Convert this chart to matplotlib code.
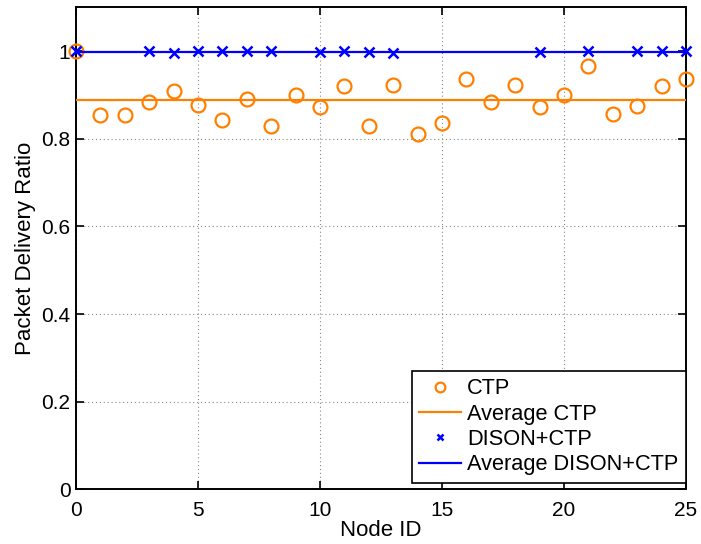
import numpy as np
import matplotlib
matplotlib.use("Agg")
import matplotlib.pyplot as plt

plt.rcParams['font.family'] = ['Liberation Sans', 'DejaVu Sans']

# data
node_ids = list(range(26))
ctp = [1.000, 0.854, 0.854, 0.884, 0.909, 0.878, 0.843, 0.890, 0.829, 0.901,
       0.873, 0.920, 0.829, 0.923, 0.810, 0.837, 0.936, 0.885, 0.922, 0.873,
       0.901, 0.967, 0.856, 0.875, 0.920, 0.936]
nan = np.nan
dison = [1.000, nan, nan, 1.000, 0.995, 1.000, 1.000, 1.000, 1.000, nan,
         0.997, 1.000, 0.997, 0.995, nan, nan, nan, nan, nan, 0.998,
         nan, 1.000, nan, 1.000, 1.000, 1.000]
avg_ctp = 0.888
avg_dison = 0.999
x_ticks = [0, 5, 10, 15, 20, 25]
y_ticks = [0, 0.2, 0.4, 0.6, 0.8, 1]
y_ticklabels = ['0', '0.2', '0.4', '0.6', '0.8', '1']

orange = '#ff8000'
blue = '#0000ff'

fig = plt.figure(figsize=(7.01, 5.44), dpi=100)
ax = fig.add_axes([0.1084, 0.1002, 0.8702, 0.8864])

ax.plot(node_ids, ctp, 'o', color=orange, mfc='none', mec=orange,
        markersize=10, markeredgewidth=1.6, clip_on=False, label='CTP', zorder=3)
ax.plot([node_ids[0], node_ids[-1]], [avg_ctp, avg_ctp], '-', color=orange,
        linewidth=1.6, label='Average CTP', zorder=3)
ax.plot(node_ids, dison, 'x', color=blue, markersize=6.5, markeredgewidth=1.8,
        clip_on=False, label='DISON+CTP', zorder=4)
ax.plot([node_ids[0], node_ids[-1]], [avg_dison, avg_dison], '-', color=blue,
        linewidth=1.6, label='Average DISON+CTP', zorder=4)

ax.set_xlim(0, 25)
ax.set_ylim(0, 1.1)
ax.set_xticks(x_ticks)
ax.set_yticks(y_ticks)
ax.set_yticklabels(y_ticklabels)
ax.grid(True, linestyle=(0, (1, 2.5)), color='#888888', linewidth=0.8)
ax.tick_params(direction='in', top=True, right=True, labelsize=15,
               length=6, width=1.2, pad=4)
ax.tick_params(axis='x', pad=8)
for s in ax.spines.values():
    s.set_linewidth(1.4)

ax.set_xlabel('Node ID', fontsize=16, labelpad=0)
ax.set_ylabel('Packet Delivery Ratio', fontsize=16, labelpad=4)

leg = ax.legend(loc='lower right', bbox_to_anchor=(1.0, 0.0135), borderaxespad=0,
                fontsize=15.7, fancybox=False, framealpha=1, edgecolor='black',
                handlelength=1.9, handletextpad=0.3, labelspacing=0.2,
                borderpad=0.35, markerscale=0.7)
leg.get_frame().set_linewidth(1.2)

fig.savefig('out.png', dpi=100)
